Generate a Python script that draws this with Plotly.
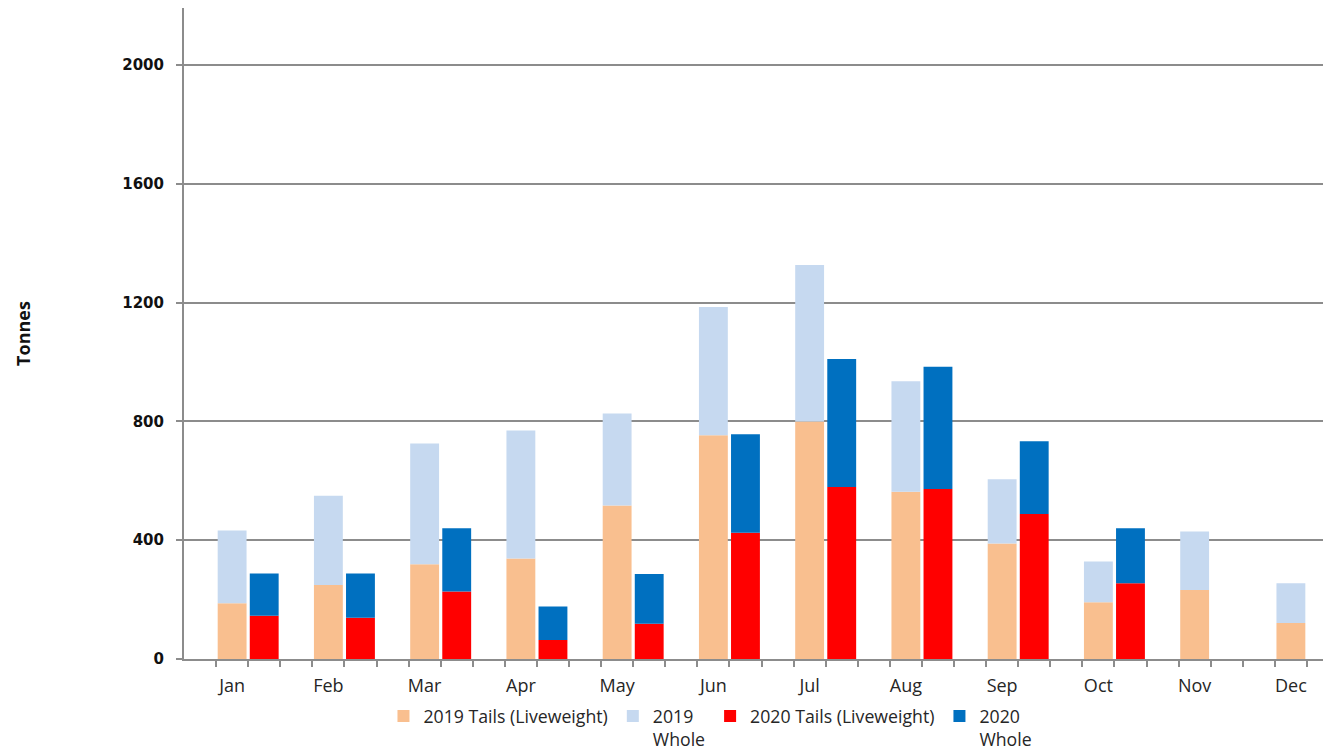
import plotly.graph_objects as go

months = ["Jan", "Feb", "Mar", "Apr", "May", "Jun", "Jul", "Aug", "Sep", "Oct", "Nov", "Dec"]
tails_2019 = [188, 249, 319, 338, 517, 753, 800, 563, 389, 191, 232, 121]
whole_2019 = [245, 301, 407, 431, 310, 432, 527, 372, 216, 137, 197, 134]
tails_2020 = [146, 139, 227, 64, 119, 425, 579, 572, 488, 255, None, None]
whole_2020 = [142, 149, 213, 113, 167, 332, 431, 412, 245, 185, None, None]
y_ticks = [0, 400, 800, 1200, 1600, 2000]

# slot positions: each month occupies 3 category slots (2019, 2020, gap)
x2019 = [1.5 + 3 * i for i in range(len(months))]
x2020 = [2.5 + 3 * i for i in range(len(months))]

GRAY = "#8c8c8c"
BW = 0.9
TXT = "#262626"

fig = go.Figure()
fig.add_bar(x=x2019, y=tails_2019, name="2019 Tails (Liveweight)", marker_color="#F9BF8F",
            width=BW, marker_line_width=0)
fig.add_bar(x=x2019, y=whole_2019, name="2019<br>Whole", marker_color="#C6D9F0",
            width=BW, marker_line_width=0, base=tails_2019)
fig.add_bar(x=x2020, y=tails_2020, name="2020 Tails (Liveweight)", marker_color="#FF0000",
            width=BW, marker_line_width=0)
fig.add_bar(x=x2020, y=whole_2020, name="2020<br>Whole", marker_color="#0070C0",
            width=BW, marker_line_width=0, base=tails_2020)

# the page adds an 8px body margin, so the figure is sized to fit the window
fig.update_layout(
    barmode="overlay",
    width=1323, height=742,
    margin=dict(l=176, r=0, t=0, b=91, autoexpand=False),
    plot_bgcolor="white", paper_bgcolor="white",
    font=dict(family="Open Sans", size=17, color=TXT),
    showlegend=True,
    legend=dict(orientation="h", x=0.459, xanchor="center", y=-0.060, yanchor="top",
                font=dict(family="Open Sans", size=17.7, color=TXT), valign="top",
                traceorder="normal", itemwidth=30, tracegroupgap=0),
    xaxis=dict(range=[0, 35.75], tickmode="array", tickvals=x2019, ticktext=months,
               ticks="", showgrid=False, showline=True, linecolor=GRAY, linewidth=2,
               zeroline=False, ticklabelstandoff=9, automargin=False,
               tickfont=dict(family="Open Sans", size=18, color=TXT),
               minor=dict(tickmode="array", tickvals=list(range(1, 36)), ticks="outside",
                          ticklen=6, tickcolor=GRAY, tickwidth=2, showgrid=False)),
    yaxis=dict(range=[0, 2192], tickmode="array", tickvals=y_ticks, ticks="outside",
               ticklen=6, tickcolor=GRAY, tickwidth=2, showgrid=True, gridcolor=GRAY,
               gridwidth=1.5, showline=True, linecolor=GRAY, linewidth=2, zeroline=False,
               ticklabelstandoff=9, automargin=False,
               tickfont=dict(family="DejaVu Sans", size=15, color="#111", weight="bold"),
               title=dict(text="Tonnes", standoff=87,
                          font=dict(family="Open Sans", size=18, color="#111", weight="bold"))),
)

fig.write_html("out.html")
